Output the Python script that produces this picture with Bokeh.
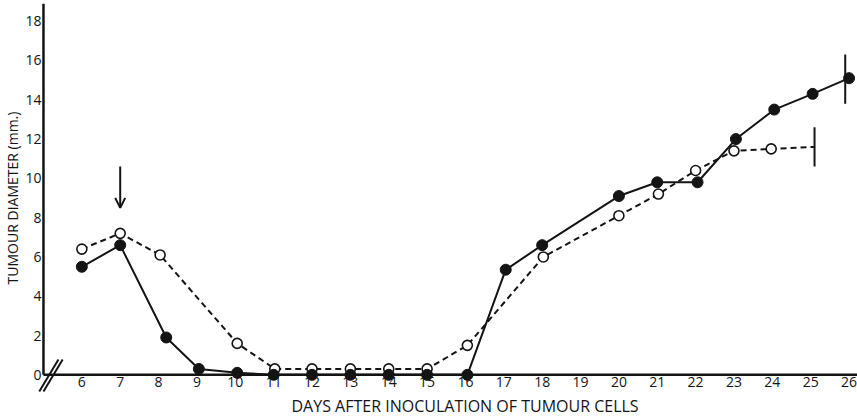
from bokeh.plotting import figure
from bokeh.models import Range1d, FixedTicker, Arrow, OpenHead, Title
from bokeh.embed import file_html
from bokeh.resources import INLINE

# ---- data ----
days_filled = [6, 7, 8.2, 9.05, 10.05, 11, 12, 13, 14, 15, 16.05, 17.05, 18, 20, 21, 22.05, 23.05, 24.05, 25.05, 26]
diam_filled = [5.5, 6.6, 1.9, 0.3, 0.1, 0, 0, 0, 0, 0, 0, 5.35, 6.6, 9.1, 9.8, 9.8, 12.0, 13.5, 14.3, 15.1]

days_open = [6, 7, 8.04, 10.05, 11.03, 12, 13, 14, 15, 16.05, 18.03, 20, 21.03, 22, 23, 23.97]
diam_open = [6.4, 7.2, 6.1, 1.6, 0.3, 0.3, 0.3, 0.3, 0.3, 1.5, 6.0, 8.1, 9.2, 10.4, 11.4, 11.5]
open_end_day = 25.1
open_end_diam = 11.6

end_bar_day = [25.1, 25.9]
end_bar_low = [10.6, 13.8]
end_bar_high = [12.6, 16.3]

arrow_day = 7
arrow_from = 10.6
arrow_to = 8.5

x_ticks = list(range(6, 27))
y_ticks = list(range(0, 19, 2))

x_title = "DAYS AFTER INOCULATION OF TUMOUR CELLS"
y_title = "TUMOUR DIAMETER (mm.)"

# axis origin (the axes cross at day 5, 0 mm, with a break mark)
x_origin = 5
y_origin = 0
x_end = 26.22
y_end = 18.9

INK = "#141414"
FONT = "Open Sans"

p = figure(width=857, height=416, output_backend="svg", toolbar_location=None,
           x_range=Range1d(4.844, x_end), y_range=Range1d(-0.9, y_end),
           min_border_left=36, min_border_right=0, min_border_top=3, min_border_bottom=23)
p.outline_line_color = None
p.grid.visible = False
p.background_fill_color = "white"
p.border_fill_color = "white"

xa = p.xaxis[0]
ya = p.yaxis[0]
for ax in (xa, ya):
    ax.major_tick_out = 0
    ax.major_tick_in = 0
    ax.minor_tick_out = 0
    ax.minor_tick_in = 0
    ax.axis_line_color = None
    ax.major_label_text_font = FONT
    ax.major_label_text_color = INK
    ax.axis_label_text_font = FONT
    ax.axis_label_text_font_style = "normal"
    ax.axis_label_text_color = INK
xa.ticker = FixedTicker(ticks=x_ticks)
ya.ticker = FixedTicker(ticks=y_ticks)
xa.major_label_text_font_size = "14px"
ya.major_label_text_font_size = "14px"
xa.major_label_standoff = -16
ya.major_label_standoff = -4
ya.axis_label = y_title
ya.axis_label_text_font_size = "14px"
ya.axis_label_standoff = 0

# x axis title, placed below the tick labels and shifted like the original
p.add_layout(Title(text=x_title, align="left", offset=254, standoff=0,
                   text_font=FONT, text_font_size="16px", text_font_style="normal",
                   text_color=INK), "below")

# axis lines drawn at the origin
p.segment(x0=[x_origin, x_origin], y0=[y_origin, y_origin], x1=[x_end, x_origin], y1=[y_origin, y_end],
          line_color=INK, line_width=2.5)

# dashed series (open circles)
p.line(days_open + [open_end_day], diam_open + [open_end_diam],
       line_color=INK, line_width=2, line_dash="6 4")
# solid series (filled circles)
p.line(days_filled, diam_filled, line_color=INK, line_width=2)

p.scatter(days_open, diam_open, size=10, marker="circle", fill_color="white",
          line_color=INK, line_width=1.6)
p.scatter(days_filled, diam_filled, size=11, marker="circle", fill_color=INK,
          line_color=INK)

# end bars
p.segment(x0=end_bar_day, y0=end_bar_low, x1=end_bar_day, y1=end_bar_high,
          line_color=INK, line_width=2)

# treatment arrow
p.add_layout(Arrow(x_start=arrow_day, y_start=arrow_from, x_end=arrow_day, y_end=arrow_to,
                   line_color=INK, line_width=2,
                   end=OpenHead(size=10, line_color=INK, line_width=2)))

# axis break marks
for dx in (0.0, 0.11):
    p.add_layout(Arrow(x_start=4.89 + dx, y_start=-0.85, x_end=5.39 + dx, y_end=0.78,
                       line_color=INK, line_width=2, end=None))

open("out.html", "w").write(file_html(p, INLINE))
